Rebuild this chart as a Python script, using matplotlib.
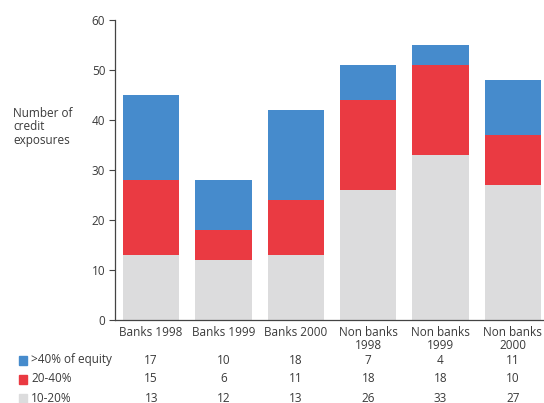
import numpy as np
import matplotlib.pyplot as plt

plt.rcParams['font.family'] = ['Open Sans', 'DejaVu Sans']

categories = ["Banks 1998", "Banks 1999", "Banks 2000", "Non banks\n1998", "Non banks\n1999", "Non banks\n2000"]
low = [13, 12, 13, 26, 33, 27]      # 10-20%
mid = [15, 6, 11, 18, 18, 10]       # 20-40%
high = [17, 10, 18, 7, 4, 11]       # >40% of equity
series_names = [">40% of equity", "20-40%", "10-20%"]

c_low, c_mid, c_high = "#dcdcdd", "#ea3a42", "#468bcc"
txt = "#3a3a3a"

fig = plt.figure(figsize=(5.44, 4.03), dpi=100)
ax = fig.add_axes([0.2114, 0.206, 0.7886, 0.744])

x = np.arange(len(categories))
w = 0.78
ax.bar(x, low, w, color=c_low)
ax.bar(x, mid, w, bottom=low, color=c_mid)
ax.bar(x, high, w, bottom=np.array(low) + np.array(mid), color=c_high)

ax.set_xlim(-0.5, 5.43)
ax.set_ylim(0, 60)
ax.set_yticks(range(0, 61, 10))
ax.set_xticks(x)
ax.set_xticklabels(categories, fontsize=8.5, color=txt, linespacing=1.05)
ax.tick_params(axis='x', length=0, pad=4)
ax.tick_params(axis='y', labelsize=8.5, labelcolor=txt, length=4, color="#444444", width=0.8, pad=3)
for s in ["top", "right"]:
    ax.spines[s].set_visible(False)
for s in ["left", "bottom"]:
    ax.spines[s].set_color("#444444")
    ax.spines[s].set_linewidth(0.9)

fig.text(13 / 544, 1 - 107 / 403, "Number of\ncredit\nexposures", fontsize=8.5, color=txt,
         va="top", ha="left", linespacing=1.05)

# table below the chart
rows = [high, mid, low]
colors = [c_high, c_mid, c_low]
row_y = [363, 382, 401]
for vals, name, col, yp in zip(rows, series_names, colors, row_y):
    yf = 1 - (yp - 3) / 403
    fig.patches.append(plt.Rectangle((19 / 544, yf - 0.012), 8 / 544, 0.022, transform=fig.transFigure,
                                     color=col, figure=fig))
    fig.text(31 / 544, yf, name, fontsize=8.5, color=txt, va="center", ha="left")
    for xi, v in zip(x, vals):
        xf = ax.transData.transform((xi, 0))[0] / fig.bbox.width
        fig.text(xf, yf, str(v), fontsize=8.5, color=txt, va="center", ha="center")

fig.savefig("out.png", dpi=100)
